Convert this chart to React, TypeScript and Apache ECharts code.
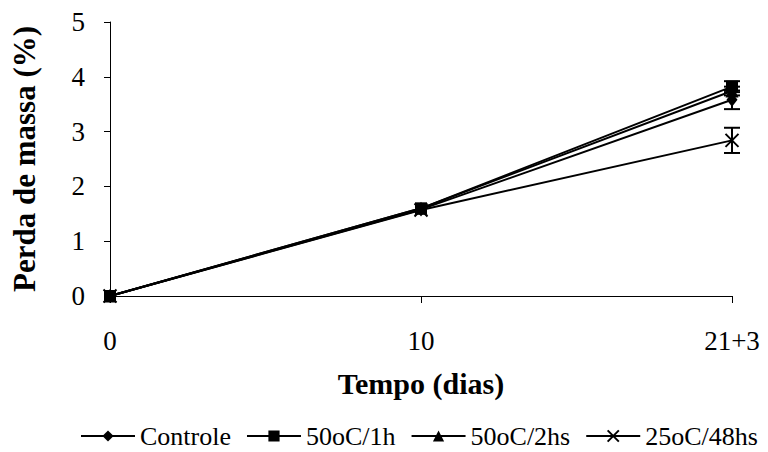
import React, { useEffect, useRef } from "react";
import * as echarts from "echarts";

const categories = ["0", "10", "21+3"];
const seriesNames = ["Controle", "50oC/1h", "50oC/2hs", "25oC/48hs"];
const controle = [0, 1.58, 3.58];
const c50_1h = [0, 1.6, 3.82];
const c50_2hs = [0, 1.6, 3.74];
const c25_48hs = [0, 1.57, 2.84];
const errControle = [0, 0, 0.17];
const err50_1h = [0, 0, 0.1];
const err50_2hs = [0, 0, 0.08];
const err25_48hs = [0, 0, 0.23];
const yTicks = [0, 1, 2, 3, 4, 5];

const FONT = "Liberation Serif";

export default function App() {
  const ref = useRef<HTMLDivElement>(null);
  useEffect(() => {
    if (!ref.current) return;
    const chart = echarts.init(ref.current, undefined, { renderer: "svg" });
    const values = [controle, c50_1h, c50_2hs, c25_48hs];
    const errs = [errControle, err50_1h, err50_2hs, err25_48hs];
    const symbols = [
      "diamond",
      "rect",
      "triangle",
      "path://M0,0L10,10M10,0L0,10",
    ];
    const sizes = [[11, 14], 12, 13, 13];
    const lineSeries = seriesNames.map((name, i) => ({
      type: "line",
      name,
      data: values[i],
      symbol: symbols[i],
      symbolSize: sizes[i],
      showAllSymbol: true,
      lineStyle: { color: "#000", width: 2 },
      itemStyle: { color: "#000", borderColor: "#000", borderWidth: i === 3 ? 2 : 0 },
      z: 3,
    }));
    const errData: number[][] = [];
    values.forEach((v, i) => {
      v.forEach((val, j) => {
        if (errs[i][j] > 0) errData.push([j, val - errs[i][j], val + errs[i][j]]);
      });
    });
    const errSeries = {
      type: "custom",
      name: "err",
      data: errData,
      z: 2,
      renderItem: (params: any, api: any) => {
        const x = api.value(0);
        const lo = api.coord([x, api.value(1)]);
        const hi = api.coord([x, api.value(2)]);
        const w = 8;
        const style = { stroke: "#000", lineWidth: 2 };
        return {
          type: "group",
          children: [
            { type: "line", shape: { x1: lo[0], y1: lo[1], x2: hi[0], y2: hi[1] }, style },
            { type: "line", shape: { x1: lo[0] - w, y1: lo[1], x2: lo[0] + w, y2: lo[1] }, style },
            { type: "line", shape: { x1: hi[0] - w, y1: hi[1], x2: hi[0] + w, y2: hi[1] }, style },
          ],
        };
      },
    };
    chart.setOption({
      animation: false,
      backgroundColor: "#fff",
      textStyle: { fontFamily: FONT, color: "#000" },
      grid: { left: 110, right: 36, top: 22, bottom: 156 },
      legend: {
        data: seriesNames,
        top: 423,
        left: 80,
        right: 0,
        itemWidth: 54,
        itemHeight: 14,
        itemGap: 15,
        padding: 0,
        textStyle: { fontFamily: FONT, fontSize: 26, color: "#000" },
      },
      xAxis: {
        type: "category",
        data: categories,
        boundaryGap: false,
        name: "Tempo (dias)",
        nameLocation: "middle",
        nameGap: 72,
        nameTextStyle: { fontFamily: FONT, fontSize: 30, fontWeight: "bold", color: "#000" },
        axisLine: { lineStyle: { color: "#000", width: 1 } },
        axisTick: { show: true, length: 7, alignWithLabel: true, lineStyle: { color: "#000" } },
        axisLabel: { fontFamily: FONT, fontSize: 27, color: "#000", margin: 31 },
        splitLine: { show: false },
      },
      yAxis: {
        type: "value",
        min: yTicks[0],
        max: yTicks[yTicks.length - 1],
        interval: 1,
        name: "Perda de massa (%)",
        nameLocation: "middle",
        nameGap: 70,
        nameTextStyle: { fontFamily: FONT, fontSize: 31, fontWeight: "bold", color: "#000" },
        axisLine: { show: true, lineStyle: { color: "#000", width: 1 } },
        axisTick: { show: true, length: 6, lineStyle: { color: "#000" } },
        axisLabel: { fontFamily: FONT, fontSize: 27, color: "#000", margin: 25 },
        splitLine: { show: false },
      },
      series: [...lineSeries, errSeries],
    });
    return () => chart.dispose();
  }, []);
  return <div ref={ref} style={{ width: 768, height: 452, position: "absolute", left: 0, top: 0 }} />;
}
